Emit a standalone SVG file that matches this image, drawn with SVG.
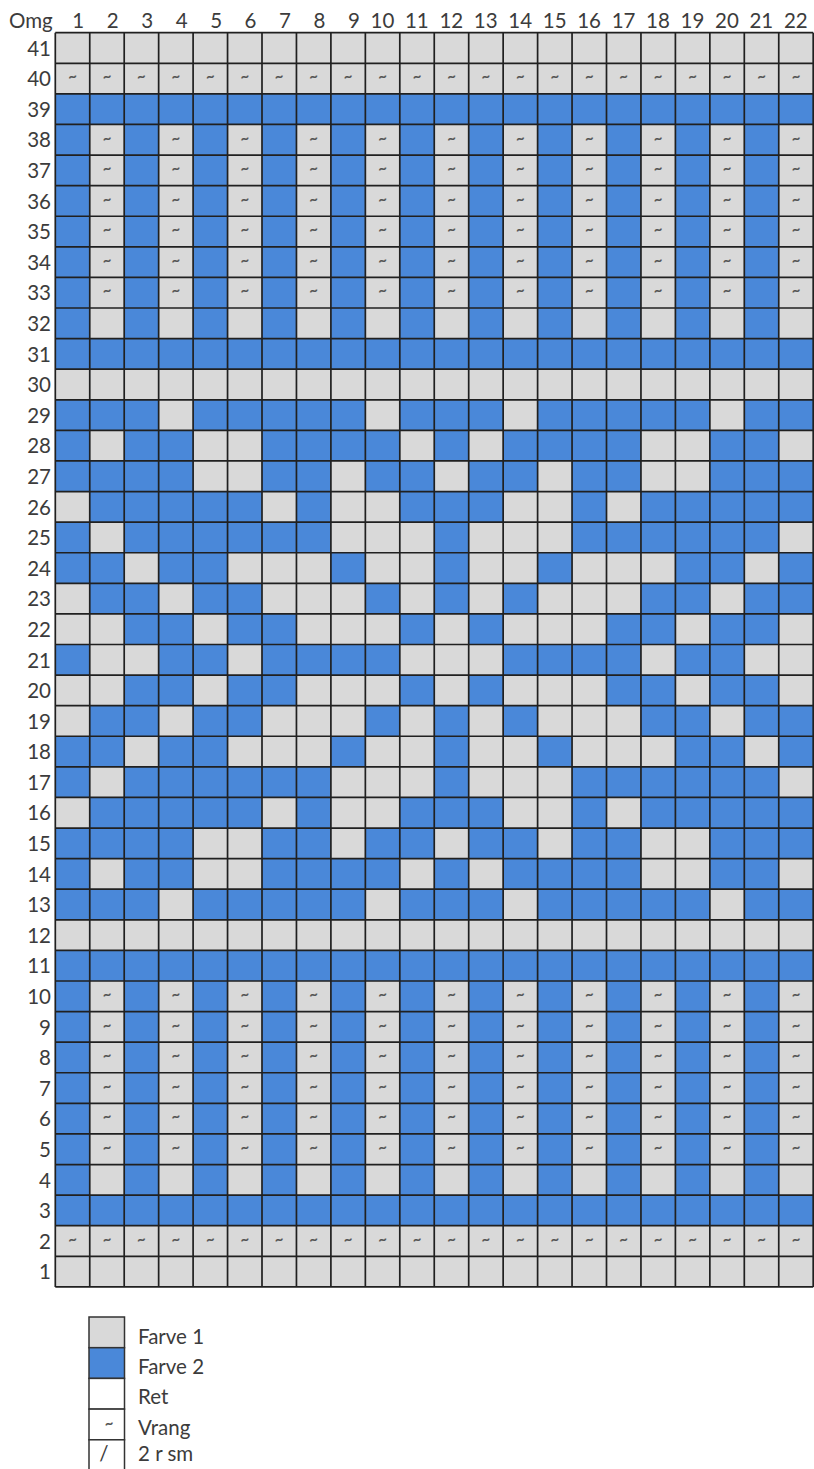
<svg xmlns="http://www.w3.org/2000/svg" width="814" height="1469" viewBox="0 0 814 1469">
<style>
.g{fill:#d9d9d9}
.b{fill:#4a88d9}
.t{font-family:Lato,"Liberation Sans",sans-serif;font-size:20.5px;fill:#3c3c3c}
.n{text-anchor:end}
.v{font-family:Lato,"Liberation Sans",sans-serif;font-size:15px;font-weight:700;fill:#555555;text-anchor:middle}
.grid{fill:none;stroke:#202020;stroke-width:1.7}
.lg{stroke:#333;stroke-width:1.5}
</style>
<rect width="814" height="1469" fill="#ffffff"/>
<g id="chart-cells" transform="translate(55.3 32.7) scale(34.45 30.59)">
<rect class="b" x="0" y="0" width="22" height="41"/>
<rect class="g" x="0" y="0" width="22" height="2"/>
<rect class="g" x="0" y="11" width="22" height="1"/>
<rect class="g" x="0" y="29" width="22" height="1"/>
<rect class="g" x="0" y="39" width="22" height="2"/>
<path class="g" d="M1 3h1v7h-1z M3 3h1v7h-1z M5 3h1v7h-1z M7 3h1v7h-1z M9 3h1v7h-1z M11 3h1v7h-1z M13 3h1v7h-1z M15 3h1v7h-1z M17 3h1v7h-1z M19 3h1v7h-1z M21 3h1v7h-1z"/>
<path class="g" d="M1 31h1v7h-1z M3 31h1v7h-1z M5 31h1v7h-1z M7 31h1v7h-1z M9 31h1v7h-1z M11 31h1v7h-1z M13 31h1v7h-1z M15 31h1v7h-1z M17 31h1v7h-1z M19 31h1v7h-1z M21 31h1v7h-1z"/>
<path class="g" d="
M3 12h1v1h-1z M9 12h1v1h-1z M13 12h1v1h-1z M19 12h1v1h-1z
M1 13h1v1h-1z M4 13h2v1h-2z M10 13h1v1h-1z M12 13h1v1h-1z M17 13h2v1h-2z M21 13h1v1h-1z
M4 14h2v1h-2z M8 14h1v1h-1z M11 14h1v1h-1z M14 14h1v1h-1z M17 14h2v1h-2z
M0 15h1v1h-1z M6 15h1v1h-1z M8 15h2v1h-2z M13 15h2v1h-2z M16 15h1v1h-1z
M1 16h1v1h-1z M8 16h3v1h-3z M12 16h3v1h-3z M21 16h1v1h-1z
M2 17h1v1h-1z M5 17h3v1h-3z M9 17h2v1h-2z M12 17h2v1h-2z M15 17h3v1h-3z M20 17h1v1h-1z
M0 18h1v1h-1z M3 18h1v1h-1z M6 18h3v1h-3z M10 18h1v1h-1z M12 18h1v1h-1z M14 18h3v1h-3z M19 18h1v1h-1z
M0 19h2v1h-2z M4 19h1v1h-1z M7 19h3v1h-3z M11 19h1v1h-1z M13 19h3v1h-3z M18 19h1v1h-1z M21 19h1v1h-1z
M1 20h2v1h-2z M5 20h1v1h-1z M10 20h3v1h-3z M17 20h1v1h-1z M20 20h2v1h-2z
M0 21h2v1h-2z M4 21h1v1h-1z M7 21h3v1h-3z M11 21h1v1h-1z M13 21h3v1h-3z M18 21h1v1h-1z M21 21h1v1h-1z
M0 22h1v1h-1z M3 22h1v1h-1z M6 22h3v1h-3z M10 22h1v1h-1z M12 22h1v1h-1z M14 22h3v1h-3z M19 22h1v1h-1z
M2 23h1v1h-1z M5 23h3v1h-3z M9 23h2v1h-2z M12 23h2v1h-2z M15 23h3v1h-3z M20 23h1v1h-1z
M1 24h1v1h-1z M8 24h3v1h-3z M12 24h3v1h-3z M21 24h1v1h-1z
M0 25h1v1h-1z M6 25h1v1h-1z M8 25h2v1h-2z M13 25h2v1h-2z M16 25h1v1h-1z
M4 26h2v1h-2z M8 26h1v1h-1z M11 26h1v1h-1z M14 26h1v1h-1z M17 26h2v1h-2z
M1 27h1v1h-1z M4 27h2v1h-2z M10 27h1v1h-1z M12 27h1v1h-1z M17 27h2v1h-2z M21 27h1v1h-1z
M3 28h1v1h-1z M9 28h1v1h-1z M13 28h1v1h-1z M19 28h1v1h-1z"/>
<path class="grid" vector-effect="non-scaling-stroke" d="M0 0V41 M1 0V41 M2 0V41 M3 0V41 M4 0V41 M5 0V41 M6 0V41 M7 0V41 M8 0V41 M9 0V41 M10 0V41 M11 0V41 M12 0V41 M13 0V41 M14 0V41 M15 0V41 M16 0V41 M17 0V41 M18 0V41 M19 0V41 M20 0V41 M21 0V41 M22 0V41
M0 0H22 M0 1H22 M0 2H22 M0 3H22 M0 4H22 M0 5H22 M0 6H22 M0 7H22 M0 8H22 M0 9H22 M0 10H22 M0 11H22 M0 12H22 M0 13H22 M0 14H22 M0 15H22 M0 16H22 M0 17H22 M0 18H22 M0 19H22 M0 20H22 M0 21H22 M0 22H22 M0 23H22 M0 24H22 M0 25H22 M0 26H22 M0 27H22 M0 28H22 M0 29H22 M0 30H22 M0 31H22 M0 32H22 M0 33H22 M0 34H22 M0 35H22 M0 36H22 M0 37H22 M0 38H22 M0 39H22 M0 40H22 M0 41H22"/>
</g>
<g id="purl-marks" class="v">
<text x="72.5 107 141.4 175.9 210.3 244.8 279.2 313.7 348.1 382.6 417 451.5 485.9 520.4 554.8 589.3 623.7 658.2 692.6 727.1 761.5 796" y="81.3">~~~~~~~~~~~~~~~~~~~~~~</text>
<text x="107 175.9 244.8 313.7 382.6 451.5 520.4 589.3 658.2 727.1 796" y="142.5">~~~~~~~~~~~</text>
<text x="107 175.9 244.8 313.7 382.6 451.5 520.4 589.3 658.2 727.1 796" y="173.1">~~~~~~~~~~~</text>
<text x="107 175.9 244.8 313.7 382.6 451.5 520.4 589.3 658.2 727.1 796" y="203.7">~~~~~~~~~~~</text>
<text x="107 175.9 244.8 313.7 382.6 451.5 520.4 589.3 658.2 727.1 796" y="234.2">~~~~~~~~~~~</text>
<text x="107 175.9 244.8 313.7 382.6 451.5 520.4 589.3 658.2 727.1 796" y="264.8">~~~~~~~~~~~</text>
<text x="107 175.9 244.8 313.7 382.6 451.5 520.4 589.3 658.2 727.1 796" y="295.4">~~~~~~~~~~~</text>
<text x="107 175.9 244.8 313.7 382.6 451.5 520.4 589.3 658.2 727.1 796" y="999">~~~~~~~~~~~</text>
<text x="107 175.9 244.8 313.7 382.6 451.5 520.4 589.3 658.2 727.1 796" y="1029.6">~~~~~~~~~~~</text>
<text x="107 175.9 244.8 313.7 382.6 451.5 520.4 589.3 658.2 727.1 796" y="1060.2">~~~~~~~~~~~</text>
<text x="107 175.9 244.8 313.7 382.6 451.5 520.4 589.3 658.2 727.1 796" y="1090.8">~~~~~~~~~~~</text>
<text x="107 175.9 244.8 313.7 382.6 451.5 520.4 589.3 658.2 727.1 796" y="1121.3">~~~~~~~~~~~</text>
<text x="107 175.9 244.8 313.7 382.6 451.5 520.4 589.3 658.2 727.1 796" y="1151.9">~~~~~~~~~~~</text>
<text x="72.5 107 141.4 175.9 210.3 244.8 279.2 313.7 348.1 382.6 417 451.5 485.9 520.4 554.8 589.3 623.7 658.2 692.6 727.1 761.5 796" y="1243.7">~~~~~~~~~~~~~~~~~~~~~~</text>
</g>
<g id="column-labels" class="t">
<text x="9" y="28">Omg</text>
<g class="n">
<text x="84.25" y="28">1</text>
<text x="118.7" y="28">2</text>
<text x="153.15" y="28">3</text>
<text x="187.6" y="28">4</text>
<text x="222.05" y="28">5</text>
<text x="256.5" y="28">6</text>
<text x="290.95" y="28">7</text>
<text x="325.4" y="28">8</text>
<text x="359.85" y="28">9</text>
<text x="394.3" y="28">10</text>
<text x="428.75" y="28">11</text>
<text x="463.2" y="28">12</text>
<text x="497.65" y="28">13</text>
<text x="532.1" y="28">14</text>
<text x="566.55" y="28">15</text>
<text x="601" y="28">16</text>
<text x="635.45" y="28">17</text>
<text x="669.9" y="28">18</text>
<text x="704.35" y="28">19</text>
<text x="738.8" y="28">20</text>
<text x="773.25" y="28">21</text>
<text x="807.7" y="28">22</text>
</g>
</g>
<g id="row-labels" class="t n">
<text x="51" y="55.7">41</text>
<text x="51" y="86.29">40</text>
<text x="51" y="116.88">39</text>
<text x="51" y="147.47">38</text>
<text x="51" y="178.06">37</text>
<text x="51" y="208.65">36</text>
<text x="51" y="239.24">35</text>
<text x="51" y="269.83">34</text>
<text x="51" y="300.42">33</text>
<text x="51" y="331.01">32</text>
<text x="51" y="361.6">31</text>
<text x="51" y="392.19">30</text>
<text x="51" y="422.78">29</text>
<text x="51" y="453.37">28</text>
<text x="51" y="483.96">27</text>
<text x="51" y="514.55">26</text>
<text x="51" y="545.14">25</text>
<text x="51" y="575.73">24</text>
<text x="51" y="606.32">23</text>
<text x="51" y="636.91">22</text>
<text x="51" y="667.5">21</text>
<text x="51" y="698.09">20</text>
<text x="51" y="728.68">19</text>
<text x="51" y="759.27">18</text>
<text x="51" y="789.86">17</text>
<text x="51" y="820.45">16</text>
<text x="51" y="851.04">15</text>
<text x="51" y="881.63">14</text>
<text x="51" y="912.22">13</text>
<text x="51" y="942.81">12</text>
<text x="51" y="973.4">11</text>
<text x="51" y="1003.99">10</text>
<text x="51" y="1034.58">9</text>
<text x="51" y="1065.17">8</text>
<text x="51" y="1095.76">7</text>
<text x="51" y="1126.35">6</text>
<text x="51" y="1156.94">5</text>
<text x="51" y="1187.53">4</text>
<text x="51" y="1218.12">3</text>
<text x="51" y="1248.71">2</text>
<text x="51" y="1279.3">1</text>
</g>
<g id="legend">
<rect class="g lg" x="89" y="1317" width="35.5" height="30.7"/>
<rect class="b lg" x="89" y="1347.7" width="35.5" height="30.7"/>
<rect class="lg" fill="#ffffff" x="89" y="1378.4" width="35.5" height="30.7"/>
<rect class="lg" fill="#ffffff" x="89" y="1409.1" width="35.5" height="30.7"/>
<rect class="lg" fill="#ffffff" x="89" y="1439.8" width="35.5" height="31"/>
<text class="v" x="109" y="1428">~</text>
<text class="t" x="104" y="1461" text-anchor="middle" font-size="18">/</text>
<text class="t" x="138" y="1344">Farve 1</text>
<text class="t" x="138" y="1374">Farve 2</text>
<text class="t" x="138" y="1404">Ret</text>
<text class="t" x="138" y="1435">Vrang</text>
<text class="t" x="138" y="1461">2 r sm</text>
</g>
</svg>
